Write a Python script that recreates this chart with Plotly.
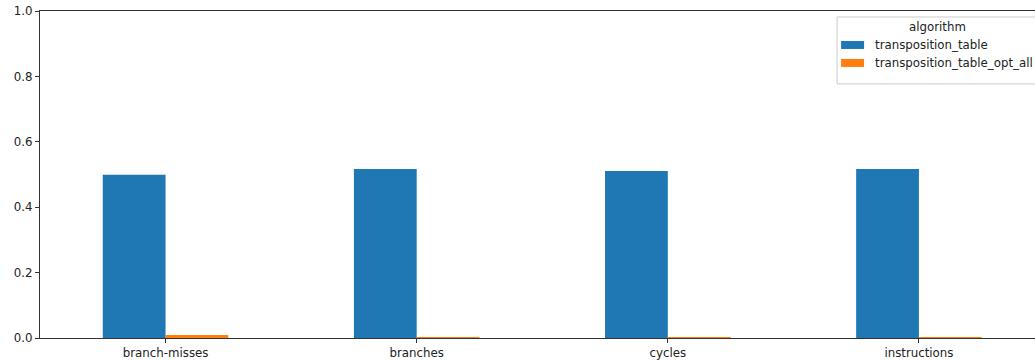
import plotly.graph_objects as go

# Hardware counter ratios per algorithm
events = ["branch-misses", "branches", "cycles", "instructions"]
transposition_table = [0.499, 0.517, 0.511, 0.517]
transposition_table_opt_all = [0.009, 0.003, 0.003, 0.003]
series_names = ["transposition_table", "transposition_table_opt_all"]
series_colors = ["#1f77b4", "#ff7f0e"]
y_ticks = [0.0, 0.2, 0.4, 0.6, 0.8, 1.0]

W, H = 1035, 361
L, R, T, B = 39.5, 0, 11, 22.7
plot_w = W - L - R
plot_h = H - T - B
FONT = dict(family="DejaVu Sans", size=11.8, color="#222222")


def px_x(p):
    return (p - L) / plot_w


def px_y(p):
    return (H - B - p) / plot_h


fig = go.Figure()
for name, vals, col in zip(series_names, [transposition_table, transposition_table_opt_all], series_colors):
    fig.add_trace(go.Bar(x=events, y=vals, name=name, marker=dict(color=col, line=dict(width=0)),
                         showlegend=False))

# x range: categories centred on integers, right side running past the figure edge
x_right = -0.5 + 4.0 * (plot_w / 1005.0)

fig.update_layout(
    width=W, height=H,
    margin=dict(l=L, r=R, t=T, b=B, pad=0, autoexpand=False),
    paper_bgcolor="white", plot_bgcolor="white",
    barmode="group", bargap=0.5, bargroupgap=0.0,
    font=FONT,
    xaxis=dict(range=[-0.5, x_right], showgrid=False, zeroline=False,
               showline=True, linecolor="#333333", linewidth=1, mirror=True,
               ticks="outside", ticklen=4, tickcolor="#333333", tickwidth=1,
               tickfont=FONT),
    yaxis=dict(range=[0, 1], tickvals=y_ticks, ticktext=[f"{v:.1f}" for v in y_ticks],
               showgrid=False, zeroline=False, showline=True, linecolor="#333333", linewidth=1,
               ticks="outside", ticklen=4, tickcolor="#333333", tickwidth=1,
               tickfont=FONT),
)

# legend box with title and wide colour patches
box_l, box_r, box_t, box_b = 837, 1050, 17, 84
fig.add_shape(type="rect", xref="paper", yref="paper",
              x0=px_x(box_l), x1=px_x(box_r), y0=px_y(box_b), y1=px_y(box_t),
              line=dict(color="#cccccc", width=1), fillcolor="rgba(255,255,255,0.8)", layer="above")
fig.add_annotation(xref="paper", yref="paper", x=px_x(937), y=px_y(27), text="algorithm",
                   showarrow=False, xanchor="center", yanchor="middle", font=FONT)
for i, (name, col) in enumerate(zip(series_names, series_colors)):
    cy = 45 + 18 * i
    fig.add_shape(type="rect", xref="paper", yref="paper",
                  x0=px_x(841), x1=px_x(864), y0=px_y(cy + 4), y1=px_y(cy - 4),
                  line=dict(width=0), fillcolor=col, layer="above")
    fig.add_annotation(xref="paper", yref="paper", x=px_x(873), y=px_y(cy), text=name,
                       showarrow=False, xanchor="left", yanchor="middle", font=FONT)

fig.write_html("out.html")
